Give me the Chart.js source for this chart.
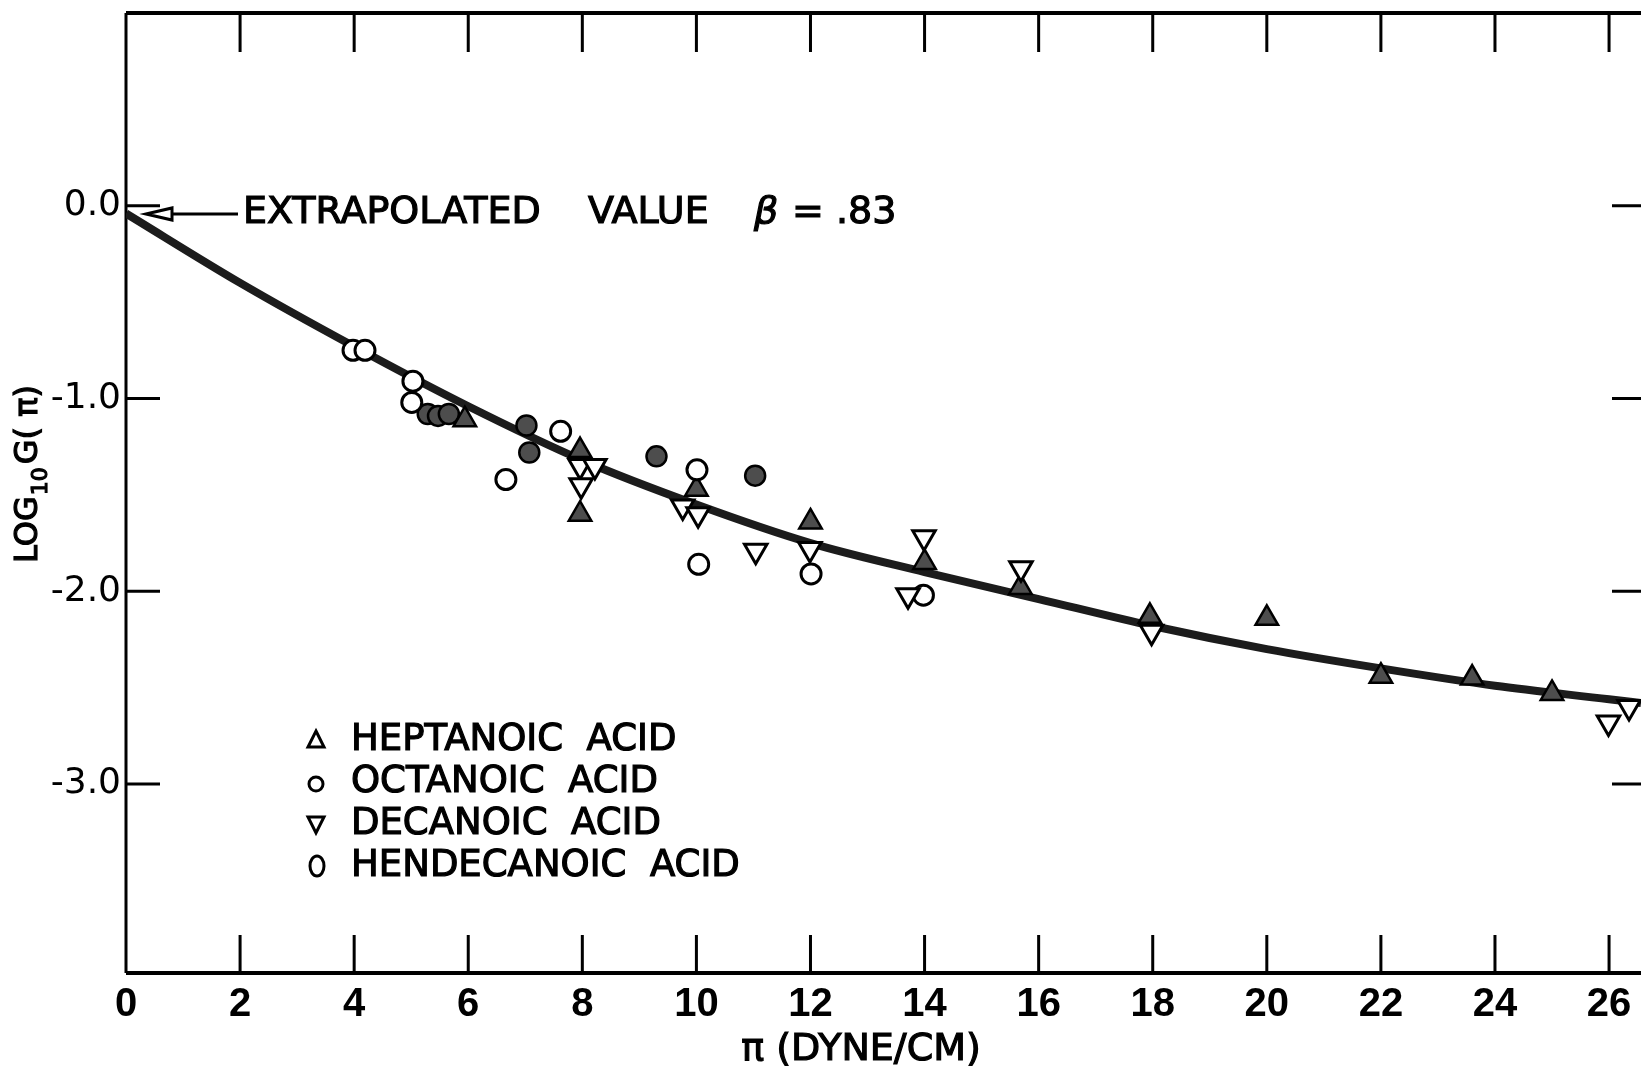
<!DOCTYPE html>
<html>
<head>
<meta charset="utf-8">
<script src="https://cdn.jsdelivr.net/npm/chart.js@4.4.1/dist/chart.umd.min.js"></script>
<style>
  html, body { margin: 0; padding: 0; background: #fff; }
  canvas { display: block; }
</style>
</head>
<body>
<canvas id="chart" width="1641" height="1073"></canvas>
<script>
// fitted curve
const curveX = [0, 2, 4, 6, 8, 10, 12, 14, 16, 18, 20, 22, 24, 26, 26.56];
const curveY = [-0.04, -0.40, -0.73, -1.04, -1.32, -1.55, -1.75, -1.90, -2.04, -2.18, -2.30, -2.40, -2.49, -2.56, -2.58];

// heptanoic acid (filled triangles)
const heptX = [5.94, 7.96, 7.96, 10.0, 12.0, 14.0, 15.68, 17.95, 20.0, 22.0, 23.6, 25.0];
const heptY = [-1.11, -1.27, -1.60, -1.47, -1.64, -1.85, -1.98, -2.13, -2.14, -2.44, -2.45, -2.53];

// octanoic acid (filled circles)
const octX = [5.29, 5.47, 5.66, 7.02, 7.07, 9.30, 11.03];
const octY = [-1.08, -1.09, -1.08, -1.14, -1.28, -1.30, -1.40];

// decanoic acid (open down triangles)
const decX = [7.96, 7.98, 8.22, 9.76, 10.03, 11.04, 11.99, 13.99, 13.71, 15.69, 17.98, 25.99, 26.35];
const decY = [-1.35, -1.45, -1.35, -1.56, -1.60, -1.79, -1.78, -1.72, -2.02, -1.88, -2.21, -2.68, -2.60];

// hendecanoic acid (open circles)
const hendX = [3.98, 4.19, 5.03, 5.01, 6.66, 7.62, 10.01, 10.04, 12.01, 13.98];
const hendY = [-0.75, -0.75, -0.91, -1.02, -1.42, -1.17, -1.37, -1.86, -1.91, -2.02];

const xTicks = [0, 2, 4, 6, 8, 10, 12, 14, 16, 18, 20, 22, 24, 26];
const yTicks = [0, -1, -2, -3];
const legendLabels = ["HEPTANOIC  ACID", "OCTANOIC  ACID", "DECANOIC  ACID", "HENDECANOIC  ACID"];

const pts = (xs, ys) => xs.map((x, i) => ({ x: x, y: ys[i] }));

// heavy lettering like the original drawing
function heavyText(ctx, t, x, y) {
  ctx.fillText(t, x, y);
  ctx.strokeText(t, x, y);
}

// box, inward ticks top/bottom/left/right
const frame = {
  id: "frame",
  beforeDatasetsDraw(chart) {
    const { ctx, chartArea: a, scales: { x, y } } = chart;
    ctx.save();
    ctx.strokeStyle = "#000";
    ctx.lineWidth = 4;
    ctx.beginPath();
    ctx.moveTo(a.right, a.top); ctx.lineTo(a.left, a.top);
    ctx.moveTo(a.left, a.bottom); ctx.lineTo(a.right, a.bottom);
    ctx.stroke();
    ctx.lineWidth = 3;
    ctx.beginPath();
    ctx.moveTo(a.left, a.top); ctx.lineTo(a.left, a.bottom);
    xTicks.forEach(v => {
      if (v === 0) return;
      const px = x.getPixelForValue(v);
      ctx.moveTo(px, a.top); ctx.lineTo(px, a.top + 39);
      ctx.moveTo(px, a.bottom); ctx.lineTo(px, a.bottom - 38);
    });
    yTicks.forEach(v => {
      const py = y.getPixelForValue(v);
      ctx.moveTo(a.left, py); ctx.lineTo(a.left + 34, py);
      ctx.moveTo(a.right, py); ctx.lineTo(a.right - 29, py);
    });
    ctx.stroke();
    ctx.restore();
  }
};

// texts: axis titles, annotation, legend
const labels = {
  id: "labels",
  afterDraw(chart) {
    const ctx = chart.ctx;
    ctx.save();
    ctx.fillStyle = "#000";
    ctx.strokeStyle = "#000";
    ctx.lineWidth = 1.2;
    ctx.textBaseline = "middle";

    // y title LOG10 G(pi)
    ctx.save();
    ctx.translate(29, 474);
    ctx.rotate(-Math.PI / 2);
    const big = '32px "DejaVu Sans"', small = '22px "DejaVu Sans"';
    ctx.font = big;
    const w1 = ctx.measureText("LOG").width, w3 = ctx.measureText("G( π)").width;
    ctx.font = small;
    const w2 = ctx.measureText("10").width;
    let tx = -(w1 + w2 + w3 + 4) / 2;
    ctx.font = big; heavyText(ctx, "LOG", tx, 0); tx += w1 + 1;
    ctx.font = small; heavyText(ctx, "10", tx, 12); tx += w2 + 3;
    ctx.font = big; heavyText(ctx, "G( π)", tx, 0);
    ctx.restore();

    // x title
    ctx.font = '38px "DejaVu Sans"';
    ctx.textAlign = "center";
    heavyText(ctx, "π (DYNE/CM)", 861, 1050);
    ctx.textAlign = "left";

    // annotation
    ctx.font = '38px "DejaVu Sans"';
    heavyText(ctx, "EXTRAPOLATED", 243, 213);
    heavyText(ctx, "VALUE", 588, 213);
    ctx.font = 'italic 38px "DejaVu Sans"';
    heavyText(ctx, "β", 754, 213);
    ctx.font = '38px "DejaVu Sans"';
    heavyText(ctx, "= .83", 792, 213);

    ctx.lineWidth = 3;
    ctx.beginPath();
    ctx.moveTo(238, 214); ctx.lineTo(172, 214);
    ctx.stroke();
    ctx.beginPath();
    ctx.moveTo(146, 214); ctx.lineTo(172, 208); ctx.lineTo(172, 220); ctx.closePath();
    ctx.stroke();

    // legend
    const rows = [740, 782, 824, 866];
    ctx.font = '37px "DejaVu Sans"';
    ctx.lineWidth = 1.2;
    legendLabels.forEach((t, i) => heavyText(ctx, t, 351, rows[i]));
    ctx.lineWidth = 3;
    const sx = 316;
    ctx.beginPath();
    ctx.moveTo(sx, rows[0] - 9); ctx.lineTo(sx + 8, rows[0] + 7); ctx.lineTo(sx - 8, rows[0] + 7); ctx.closePath();
    ctx.stroke();
    ctx.beginPath();
    ctx.arc(sx, rows[1] + 2, 7, 0, Math.PI * 2);
    ctx.stroke();
    ctx.beginPath();
    ctx.moveTo(sx - 8, rows[2] - 7); ctx.lineTo(sx + 8, rows[2] - 7); ctx.lineTo(sx, rows[2] + 9); ctx.closePath();
    ctx.stroke();
    ctx.beginPath();
    ctx.ellipse(sx + 1, rows[3], 7, 10, 0, 0, Math.PI * 2);
    ctx.stroke();
    ctx.restore();
  }
};

const ctx = document.getElementById("chart").getContext("2d");
new Chart(ctx, {
  type: "scatter",
  data: {
    datasets: [
      {
        type: "line",
        data: pts(curveX, curveY),
        borderColor: "#1c1c1c",
        borderWidth: 8,
        pointRadius: 0,
        cubicInterpolationMode: "monotone",
        fill: false,
        order: 10
      },
      {
        data: pts(heptX, heptY),
        pointStyle: "triangle",
        pointRadius: 13,
        backgroundColor: "#4d4d4d",
        borderColor: "#000",
        borderWidth: 2.5,
        order: 1
      },
      {
        data: pts(octX, octY),
        pointStyle: "circle",
        pointRadius: 10,
        backgroundColor: "#4d4d4d",
        borderColor: "#000",
        borderWidth: 2.5,
        order: 1
      },
      {
        data: pts(decX, decY),
        pointStyle: "triangle",
        rotation: 180,
        pointRadius: 13,
        backgroundColor: "#fff",
        borderColor: "#000",
        borderWidth: 3,
        order: 0
      },
      {
        data: pts(hendX, hendY),
        pointStyle: "circle",
        pointRadius: 10,
        backgroundColor: "#fff",
        borderColor: "#000",
        borderWidth: 3,
        order: 0
      }
    ]
  },
  options: {
    responsive: false,
    animation: false,
    devicePixelRatio: 1,
    layout: { autoPadding: false, padding: { top: 13, left: 0, right: 0, bottom: 0 } },
    plugins: { legend: { display: false }, tooltip: { enabled: false } },
    scales: {
      x: {
        type: "linear",
        min: 0,
        max: 26.56,
        grid: { display: false, drawTicks: false },
        border: { display: false },
        afterBuildTicks: s => { s.ticks = xTicks.map(v => ({ value: v })); },
        afterFit: s => { s.height = 100; s.paddingLeft = 0; s.paddingRight = 0; },
        ticks: {
          padding: 8,
          color: "#000",
          maxRotation: 0,
          autoSkip: false,
          font: { family: "Liberation Sans", weight: "bold", size: 40 },
          callback: v => String(v)
        }
      },
      y: {
        type: "linear",
        min: -3.98,
        max: 1.0,
        grid: { display: false, drawTicks: false },
        border: { display: false },
        afterBuildTicks: s => { s.ticks = yTicks.map(v => ({ value: v })); },
        afterFit: s => { s.width = 126; s.paddingTop = 0; s.paddingBottom = 0; },
        ticks: {
          padding: 5,
          color: "#000",
          font: { family: "DejaVu Sans", size: 36 },
          callback: v => v.toFixed(1)
        }
      }
    }
  },
  plugins: [frame, labels]
});
</script>
</body>
</html>
